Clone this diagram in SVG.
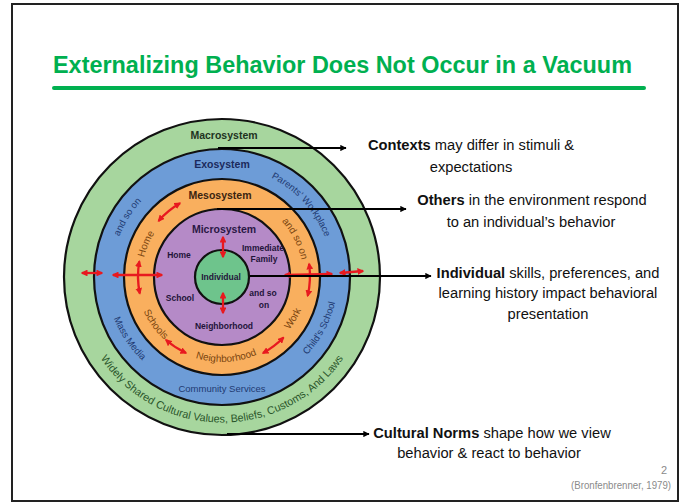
<svg xmlns="http://www.w3.org/2000/svg" width="686" height="502" viewBox="0 0 686 502">
<style>
.ring{stroke:#111;stroke-width:2.2}
.sys{font-family:"Liberation Sans",Arial,sans-serif;font-weight:bold;font-size:10.5px;text-anchor:middle}
.in{font-family:"Liberation Sans",Arial,sans-serif;font-weight:bold;font-size:8.5px;fill:#23143a;text-anchor:middle}
.or{font-family:"Liberation Sans",Arial,sans-serif;font-size:10px;fill:#7a4510}
.bl{font-family:"Liberation Sans",Arial,sans-serif;font-size:9.5px;fill:#1f3a72}
.gr{font-family:"Liberation Sans",Arial,sans-serif;font-size:10.8px;fill:#2a552a}
.red{fill:none;stroke:#e8191f;stroke-width:2.3;marker-start:url(#rh);marker-end:url(#rh)}
.blk{fill:none;stroke:#000;stroke-width:1.8;marker-end:url(#bh)}
.note{font-family:"Liberation Sans",Arial,sans-serif;font-size:14.7px;fill:#111;text-anchor:middle}
</style>
<defs>
<marker id="rh" viewBox="0 0 10 10" refX="8" refY="5" markerWidth="3" markerHeight="3" orient="auto-start-reverse"><path d="M0,0 L10,5 L0,10 z" fill="#e8191f"/></marker>
<marker id="bh" viewBox="0 0 10 10" refX="9" refY="5" markerWidth="3.5" markerHeight="3.5" orient="auto"><path d="M0,0 L10,5 L0,10 z" fill="#000"/></marker>
<path id="pBlUL" d="M117.4,310 A110,110 0 0 1 206.7,167.1"/>
<path id="pBlUR" d="M218.2,166.1 A110,110 0 0 1 330.9,291.3"/>
<path id="pOrUL" d="M150.7,312.3 A80,80 0 0 1 198.6,199.5"/>
<path id="pOrUR" d="M240.2,197.1 A81,81 0 0 1 296.6,307.6"/>
<path id="pOrLL" d="M138.6,255.2 A86,86 0 0 0 216,361.8"/>
<path id="pOrB" d="M159.1,334.7 A86,86 0 0 0 290.7,327.8"/>
<path id="pOrLR" d="M235.5,360.9 A86,86 0 0 0 303.3,248"/>
<path id="pBlLL" d="M110.5,244 A116,116 0 0 0 209.9,391.4"/>
<path id="pBlLR" d="M246.1,389.5 A116,116 0 0 0 329.6,232.5"/>
<path id="pGr" d="M75.6,288.8 A147,147 0 0 0 368.4,288.8"/>
</defs>
<rect x="12" y="4" width="666" height="497" fill="#fff" stroke="#222" stroke-width="2"/>
<g id="title">
<text x="53" y="73" font-family="'Liberation Sans',Arial,sans-serif" font-weight="bold" font-size="23" fill="#00b050" textLength="579" lengthAdjust="spacingAndGlyphs">Externalizing Behavior Does Not Occur in a Vacuum</text>
<line x1="54" y1="88" x2="644" y2="88" stroke="#00b050" stroke-width="4" stroke-linecap="round"/>
</g>
<g id="macrosystem">
<circle class="ring" cx="222" cy="277" r="158" fill="#a7d69e"/>
<text class="sys" x="224" y="139" fill="#1e331e">Macrosystem</text>
<text class="gr" text-anchor="middle"><textPath href="#pGr" startOffset="50%">Widely Shared Cultural Values, Beliefs, Customs, And Laws</textPath></text>
</g>
<g id="exosystem">
<circle class="ring" cx="222" cy="277" r="128" fill="#6d9cd7"/>
<text class="sys" x="222" y="168" fill="#1b2a5c">Exosystem</text>
<text class="bl" text-anchor="middle" font-size="10"><textPath href="#pBlUL" startOffset="50%">and so on</textPath></text>
<text class="bl" text-anchor="middle"><textPath href="#pBlUR" startOffset="50%">Parents’ Workplace</textPath></text>
<text class="bl" text-anchor="middle"><textPath href="#pBlLL" startOffset="50%">Mass Media</textPath></text>
<text class="bl" text-anchor="middle"><textPath href="#pBlLR" startOffset="50%">Child’s School</textPath></text>
<text class="bl" x="222" y="392" text-anchor="middle" font-size="8.7">Community Services</text>
</g>
<g id="mesosystem">
<circle class="ring" cx="222" cy="277" r="98" fill="#f9af5e"/>
<text class="sys" x="220" y="199" fill="#3b2410">Mesosystem</text>
<text class="or" text-anchor="middle"><textPath href="#pOrUL" startOffset="50%">Home</textPath></text>
<text class="or" text-anchor="middle"><textPath href="#pOrUR" startOffset="50%">and so on</textPath></text>
<text class="or" text-anchor="middle"><textPath href="#pOrLL" startOffset="50%">Schools</textPath></text>
<text class="or" text-anchor="middle"><textPath href="#pOrB" startOffset="50%">Neighborhood</textPath></text>
<text class="or" text-anchor="middle"><textPath href="#pOrLR" startOffset="50%">Work</textPath></text>
</g>
<g id="microsystem">
<circle class="ring" cx="222" cy="277" r="68" fill="#b58ac7"/>
<text class="sys" x="224" y="233" fill="#2a1845">Microsystem</text>
<text class="in" x="179" y="258">Home</text>
<text class="in" x="180" y="301">School</text>
<text class="in" x="263" y="251" font-size="7">Immediate</text>
<text class="in" x="264" y="262" font-size="7">Family</text>
<text class="in" x="263" y="296">and so</text>
<text class="in" x="264" y="308">on</text>
<text class="in" x="224" y="329">Neighborhood</text>
</g>
<g id="individual">
<circle class="ring" cx="222" cy="277" r="27" fill="#6ec48c"/>
<text class="in" x="221" y="280" font-size="9">Individual</text>
</g>
<g id="interactions">
<path class="red" d="M82,273 L102,273"/>
<path class="red" d="M113,275 L162,275"/>
<path class="red" d="M139.3,261.4 A84,84 0 0 0 139.8,293.5"/>
<path class="red" d="M158.6,220.9 A84,84 0 0 1 180,203.3"/>
<path class="red" d="M223,237 L223,257"/>
<path class="red" d="M223,293 L223,313"/>
<path class="red" d="M285,275 L332,274"/>
<path class="red" d="M309.1,263.8 A88,88 0 0 1 307.7,295.8"/>
<path class="red" d="M340,273 L363,271"/>
<path class="red" d="M166,340 A85,85 0 0 0 186,353"/>
<path class="red" d="M263,353 A87,87 0 0 0 283.5,337.5"/>
</g>
<g id="connectors">
<path class="blk" d="M218,148 L346,148"/>
<path class="blk" d="M217,209 L406,209"/>
<path class="blk" d="M250,276 L431,276"/>
<path class="blk" d="M227,434 L369,434"/>
</g>
<g id="note-contexts">
<text class="note" x="471" y="150"><tspan font-weight="bold">Contexts</tspan> may differ in stimuli &amp;</text>
<text class="note" x="471" y="172">expectations</text>
</g>
<g id="note-others">
<text class="note" x="532" y="205"><tspan font-weight="bold">Others</tspan> in the environment respond</text>
<text class="note" x="531" y="227">to an individual’s behavior</text>
</g>
<g id="note-individual">
<text class="note" x="548" y="278"><tspan font-weight="bold">Individual</tspan> skills, preferences, and</text>
<text class="note" x="548" y="298">learning history impact behavioral</text>
<text class="note" x="548" y="319">presentation</text>
</g>
<g id="note-cultural">
<text class="note" x="492" y="438"><tspan font-weight="bold">Cultural Norms</tspan> shape how we view</text>
<text class="note" x="489" y="458">behavior &amp; react to behavior</text>
</g>
<g id="footer">
<text x="667" y="474" font-family="'Liberation Sans',Arial,sans-serif" font-size="11" fill="#8a8a8a" text-anchor="end">2</text>
<text x="571" y="489" font-family="'Liberation Sans',Arial,sans-serif" font-size="11" fill="#8a8a8a" textLength="100" lengthAdjust="spacingAndGlyphs">(Bronfenbrenner, 1979)</text>
</g>
</svg>
